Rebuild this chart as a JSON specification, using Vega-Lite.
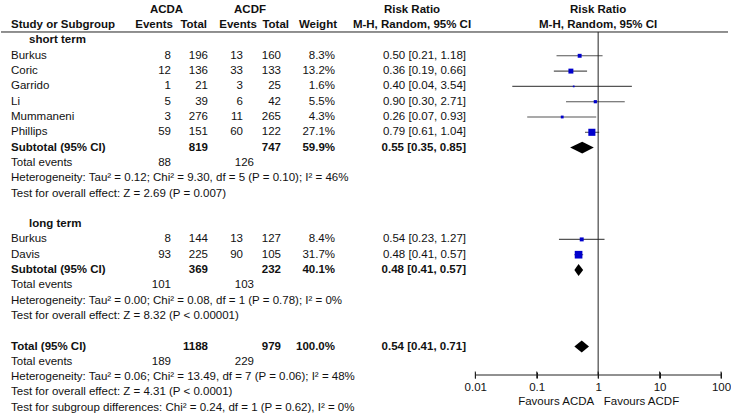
{
  "$schema": "https://vega.github.io/schema/vega-lite/v6.json",
  "background": "white",
  "padding": {"left": 0, "top": 0, "right": 4, "bottom": 0},
  "spacing": 0,
  "bounds": "flush",
  "config": {
    "view": {"stroke": null},
    "text": {"font": "Liberation Sans", "fontSize": 11.5, "fill": "#111", "baseline": "middle"}
  },
  "datasets": {
    "rows": [
      {"r": 0, "kind": "group", "label": "short term"},
      {"r": 1, "kind": "study", "label": "Burkus", "e1": "8", "t1": "196", "e2": "13", "t2": "160", "w": "8.3%", "ci": "0.50 [0.21, 1.18]", "est": 0.50, "lo": 0.21, "hi": 1.18, "wv": 8.3},
      {"r": 2, "kind": "study", "label": "Coric", "e1": "12", "t1": "136", "e2": "33", "t2": "133", "w": "13.2%", "ci": "0.36 [0.19, 0.66]", "est": 0.36, "lo": 0.19, "hi": 0.66, "wv": 13.2},
      {"r": 3, "kind": "study", "label": "Garrido", "e1": "1", "t1": "21", "e2": "3", "t2": "25", "w": "1.6%", "ci": "0.40 [0.04, 3.54]", "est": 0.40, "lo": 0.04, "hi": 3.54, "wv": 1.6},
      {"r": 4, "kind": "study", "label": "Li", "e1": "5", "t1": "39", "e2": "6", "t2": "42", "w": "5.5%", "ci": "0.90 [0.30, 2.71]", "est": 0.90, "lo": 0.30, "hi": 2.71, "wv": 5.5},
      {"r": 5, "kind": "study", "label": "Mummaneni", "e1": "3", "t1": "276", "e2": "11", "t2": "265", "w": "4.3%", "ci": "0.26 [0.07, 0.93]", "est": 0.26, "lo": 0.07, "hi": 0.93, "wv": 4.3},
      {"r": 6, "kind": "study", "label": "Phillips", "e1": "59", "t1": "151", "e2": "60", "t2": "122", "w": "27.1%", "ci": "0.79 [0.61, 1.04]", "est": 0.79, "lo": 0.61, "hi": 1.04, "wv": 27.1},
      {"r": 7, "kind": "subtotal", "label": "Subtotal (95% CI)", "t1": "819", "t2": "747", "w": "59.9%", "ci": "0.55 [0.35, 0.85]", "est": 0.55, "lo": 0.35, "hi": 0.85},
      {"r": 8, "kind": "info", "label": "Total events", "e1": "88", "e2": "126"},
      {"r": 9, "kind": "info", "label": "Heterogeneity: Tau² = 0.12; Chi² = 9.30, df = 5 (P = 0.10); I² = 46%"},
      {"r": 10, "kind": "info", "label": "Test for overall effect: Z = 2.69 (P = 0.007)"},
      {"r": 12, "kind": "group", "label": "long term"},
      {"r": 13, "kind": "study", "label": "Burkus", "e1": "8", "t1": "144", "e2": "13", "t2": "127", "w": "8.4%", "ci": "0.54 [0.23, 1.27]", "est": 0.54, "lo": 0.23, "hi": 1.27, "wv": 8.4},
      {"r": 14, "kind": "study", "label": "Davis", "e1": "93", "t1": "225", "e2": "90", "t2": "105", "w": "31.7%", "ci": "0.48 [0.41, 0.57]", "est": 0.48, "lo": 0.41, "hi": 0.57, "wv": 31.7},
      {"r": 15, "kind": "subtotal", "label": "Subtotal (95% CI)", "t1": "369", "t2": "232", "w": "40.1%", "ci": "0.48 [0.41, 0.57]", "est": 0.48, "lo": 0.41, "hi": 0.57},
      {"r": 16, "kind": "info", "label": "Total events", "e1": "101", "e2": "103"},
      {"r": 17, "kind": "info", "label": "Heterogeneity: Tau² = 0.00; Chi² = 0.08, df = 1 (P = 0.78); I² = 0%"},
      {"r": 18, "kind": "info", "label": "Test for overall effect: Z = 8.32 (P < 0.00001)"},
      {"r": 20, "kind": "subtotal", "label": "Total (95% CI)", "t1": "1188", "t2": "979", "w": "100.0%", "ci": "0.54 [0.41, 0.71]", "est": 0.54, "lo": 0.41, "hi": 0.71},
      {"r": 21, "kind": "info", "label": "Total events", "e1": "189", "e2": "229"},
      {"r": 22, "kind": "info", "label": "Heterogeneity: Tau² = 0.06; Chi² = 13.49, df = 7 (P = 0.06); I² = 48%"},
      {"r": 23, "kind": "info", "label": "Test for overall effect: Z = 4.31 (P < 0.0001)"},
      {"r": 24, "kind": "info", "label": "Test for subgroup differences: Chi² = 0.24, df = 1 (P = 0.62), I² = 0%"}
    ],
    "header": [
      {"col": "study", "r": -1, "text": "Study or Subgroup"},
      {"col": "g1", "r": -2, "text": "ACDA"},
      {"col": "e1", "r": -1, "text": "Events"},
      {"col": "t1", "r": -1, "text": "Total"},
      {"col": "g2", "r": -2, "text": "ACDF"},
      {"col": "e2", "r": -1, "text": "Events"},
      {"col": "t2", "r": -1, "text": "Total"},
      {"col": "w", "r": -1, "text": "Weight"},
      {"col": "ci", "r": -2, "text": "Risk Ratio"},
      {"col": "ci", "r": -1, "text": "M-H, Random, 95% CI"},
      {"col": "plot", "r": -2, "text": "Risk Ratio"},
      {"col": "plot", "r": -1, "text": "M-H, Random, 95% CI"}
    ],
    "frame": [
      {"part": "headline", "r": -0.556},
      {"part": "axisline", "r": 21.863, "lo": 0.01, "hi": 100},
      {"part": "nullline", "r": -0.556, "r2": 21.863, "v": 1},
      {"part": "tick", "r": 21.863, "v": 0.01},
      {"part": "tick", "r": 21.863, "v": 0.1},
      {"part": "tick", "r": 21.863, "v": 1},
      {"part": "tick", "r": 21.863, "v": 10},
      {"part": "tick", "r": 21.863, "v": 100}
    ]
  },
  "hconcat": [
    {
      "width": 130, "height": 415,
      "layer": [
        {"data": {"name": "frame"}, "transform": [{"filter": "datum.part === 'headline'"}], "mark": {"type": "rule", "color": "#222"},
         "encoding": {"y": {"field": "r", "type": "quantitative", "scale": {"domain": [-2.647, 24.477], "reverse": true, "nice": false, "zero": false}, "axis": null}}},
        {"data": {"name": "rows"}, "transform": [{"filter": "datum.kind === 'study' || datum.kind === 'info'"}], "mark": {"type": "text", "align": "left", "dx": 10},
         "encoding": {"x": {"datum": 0, "type": "quantitative", "scale": {"domain": [0, 1]}, "axis": null}, "y": {"field": "r", "type": "quantitative"}, "text": {"field": "label"}}},
        {"data": {"name": "rows"}, "transform": [{"filter": "datum.kind === 'subtotal'"}], "mark": {"type": "text", "align": "left", "dx": 10, "fontWeight": "bold"},
         "encoding": {"x": {"datum": 0, "type": "quantitative"}, "y": {"field": "r", "type": "quantitative"}, "text": {"field": "label"}}},
        {"data": {"name": "rows"}, "transform": [{"filter": "datum.kind === 'group'"}], "mark": {"type": "text", "align": "left", "dx": 28, "fontWeight": "bold"},
         "encoding": {"x": {"datum": 0, "type": "quantitative"}, "y": {"field": "r", "type": "quantitative"}, "text": {"field": "label"}}},
        {"data": {"name": "header"}, "transform": [{"filter": "datum.col === 'study'"}], "mark": {"type": "text", "align": "left", "dx": 10, "fontWeight": "bold"},
         "encoding": {"x": {"datum": 0, "type": "quantitative"}, "y": {"field": "r", "type": "quantitative"}, "text": {"field": "text"}}}
      ]
    },
    {
      "width": 40, "height": 415,
      "layer": [
        {"data": {"name": "frame"}, "transform": [{"filter": "datum.part === 'headline'"}], "mark": {"type": "rule", "color": "#222"},
         "encoding": {"y": {"field": "r", "type": "quantitative", "scale": {"domain": [-2.647, 24.477], "reverse": true, "nice": false, "zero": false}, "axis": null}}},
        {"data": {"name": "rows"}, "transform": [{"filter": "datum.e1 != null"}], "mark": {"type": "text", "align": "right"},
         "encoding": {"x": {"datum": 1, "type": "quantitative", "scale": {"domain": [0, 1]}, "axis": null}, "y": {"field": "r", "type": "quantitative"}, "text": {"field": "e1"}}},
        {"data": {"name": "header"}, "transform": [{"filter": "datum.col === 'e1'"}], "mark": {"type": "text", "align": "right", "dx": 2, "fontWeight": "bold"},
         "encoding": {"x": {"datum": 1, "type": "quantitative"}, "y": {"field": "r", "type": "quantitative"}, "text": {"field": "text"}}},
        {"data": {"name": "header"}, "transform": [{"filter": "datum.col === 'g1'"}], "mark": {"type": "text", "align": "center", "dx": -4.5, "fontWeight": "bold"},
         "encoding": {"x": {"datum": 1, "type": "quantitative"}, "y": {"field": "r", "type": "quantitative"}, "text": {"field": "text"}}}
      ]
    },
    {
      "width": 37, "height": 415,
      "layer": [
        {"data": {"name": "frame"}, "transform": [{"filter": "datum.part === 'headline'"}], "mark": {"type": "rule", "color": "#222"},
         "encoding": {"y": {"field": "r", "type": "quantitative", "scale": {"domain": [-2.647, 24.477], "reverse": true, "nice": false, "zero": false}, "axis": null}}},
        {"data": {"name": "rows"}, "transform": [{"filter": "datum.t1 != null && datum.kind !== 'subtotal'"}], "mark": {"type": "text", "align": "right"},
         "encoding": {"x": {"datum": 1, "type": "quantitative", "scale": {"domain": [0, 1]}, "axis": null}, "y": {"field": "r", "type": "quantitative"}, "text": {"field": "t1"}}},
        {"data": {"name": "rows"}, "transform": [{"filter": "datum.kind === 'subtotal'"}], "mark": {"type": "text", "align": "right", "fontWeight": "bold"},
         "encoding": {"x": {"datum": 1, "type": "quantitative"}, "y": {"field": "r", "type": "quantitative"}, "text": {"field": "t1"}}},
        {"data": {"name": "header"}, "transform": [{"filter": "datum.col === 't1'"}], "mark": {"type": "text", "align": "right", "dx": -1, "fontWeight": "bold"},
         "encoding": {"x": {"datum": 1, "type": "quantitative"}, "y": {"field": "r", "type": "quantitative"}, "text": {"field": "text"}}}
      ]
    },
    {
      "width": 35, "height": 415,
      "layer": [
        {"data": {"name": "frame"}, "transform": [{"filter": "datum.part === 'headline'"}], "mark": {"type": "rule", "color": "#222"},
         "encoding": {"y": {"field": "r", "type": "quantitative", "scale": {"domain": [-2.647, 24.477], "reverse": true, "nice": false, "zero": false}, "axis": null}}},
        {"data": {"name": "rows"}, "transform": [{"filter": "datum.e2 != null && datum.kind === 'study'"}], "mark": {"type": "text", "align": "right"},
         "encoding": {"x": {"datum": 1, "type": "quantitative", "scale": {"domain": [0, 1]}, "axis": null}, "y": {"field": "r", "type": "quantitative"}, "text": {"field": "e2"}}},
        {"data": {"name": "rows"}, "transform": [{"filter": "datum.e2 != null && datum.kind === 'info'"}], "mark": {"type": "text", "align": "right", "dx": 11},
         "encoding": {"x": {"datum": 1, "type": "quantitative"}, "y": {"field": "r", "type": "quantitative"}, "text": {"field": "e2"}}},
        {"data": {"name": "header"}, "transform": [{"filter": "datum.col === 'e2'"}], "mark": {"type": "text", "align": "right", "dx": 14, "fontWeight": "bold"},
         "encoding": {"x": {"datum": 1, "type": "quantitative"}, "y": {"field": "r", "type": "quantitative"}, "text": {"field": "text"}}},
        {"data": {"name": "header"}, "transform": [{"filter": "datum.col === 'g2'"}], "mark": {"type": "text", "align": "center", "dx": 7, "fontWeight": "bold"},
         "encoding": {"x": {"datum": 1, "type": "quantitative"}, "y": {"field": "r", "type": "quantitative"}, "text": {"field": "text"}}}
      ]
    },
    {
      "width": 38, "height": 415,
      "layer": [
        {"data": {"name": "frame"}, "transform": [{"filter": "datum.part === 'headline'"}], "mark": {"type": "rule", "color": "#222"},
         "encoding": {"y": {"field": "r", "type": "quantitative", "scale": {"domain": [-2.647, 24.477], "reverse": true, "nice": false, "zero": false}, "axis": null}}},
        {"data": {"name": "rows"}, "transform": [{"filter": "datum.t2 != null && datum.kind !== 'subtotal'"}], "mark": {"type": "text", "align": "right"},
         "encoding": {"x": {"datum": 1, "type": "quantitative", "scale": {"domain": [0, 1]}, "axis": null}, "y": {"field": "r", "type": "quantitative"}, "text": {"field": "t2"}}},
        {"data": {"name": "rows"}, "transform": [{"filter": "datum.kind === 'subtotal'"}], "mark": {"type": "text", "align": "right", "fontWeight": "bold"},
         "encoding": {"x": {"datum": 1, "type": "quantitative"}, "y": {"field": "r", "type": "quantitative"}, "text": {"field": "t2"}}},
        {"data": {"name": "header"}, "transform": [{"filter": "datum.col === 't2'"}], "mark": {"type": "text", "align": "right", "dx": 8, "fontWeight": "bold"},
         "encoding": {"x": {"datum": 1, "type": "quantitative"}, "y": {"field": "r", "type": "quantitative"}, "text": {"field": "text"}}}
      ]
    },
    {
      "width": 54, "height": 415,
      "layer": [
        {"data": {"name": "frame"}, "transform": [{"filter": "datum.part === 'headline'"}], "mark": {"type": "rule", "color": "#222"},
         "encoding": {"y": {"field": "r", "type": "quantitative", "scale": {"domain": [-2.647, 24.477], "reverse": true, "nice": false, "zero": false}, "axis": null}}},
        {"data": {"name": "rows"}, "transform": [{"filter": "datum.w != null && datum.kind !== 'subtotal'"}], "mark": {"type": "text", "align": "right"},
         "encoding": {"x": {"datum": 1, "type": "quantitative", "scale": {"domain": [0, 1]}, "axis": null}, "y": {"field": "r", "type": "quantitative"}, "text": {"field": "w"}}},
        {"data": {"name": "rows"}, "transform": [{"filter": "datum.kind === 'subtotal'"}], "mark": {"type": "text", "align": "right", "fontWeight": "bold"},
         "encoding": {"x": {"datum": 1, "type": "quantitative"}, "y": {"field": "r", "type": "quantitative"}, "text": {"field": "w"}}},
        {"data": {"name": "header"}, "transform": [{"filter": "datum.col === 'w'"}], "mark": {"type": "text", "align": "right", "dx": 2, "fontWeight": "bold"},
         "encoding": {"x": {"datum": 1, "type": "quantitative"}, "y": {"field": "r", "type": "quantitative"}, "text": {"field": "text"}}}
      ]
    },
    {
      "width": 131, "height": 415,
      "layer": [
        {"data": {"name": "frame"}, "transform": [{"filter": "datum.part === 'headline'"}], "mark": {"type": "rule", "color": "#222"},
         "encoding": {"y": {"field": "r", "type": "quantitative", "scale": {"domain": [-2.647, 24.477], "reverse": true, "nice": false, "zero": false}, "axis": null}}},
        {"data": {"name": "rows"}, "transform": [{"filter": "datum.ci != null && datum.kind !== 'subtotal'"}], "mark": {"type": "text", "align": "right"},
         "encoding": {"x": {"datum": 1, "type": "quantitative", "scale": {"domain": [0, 1]}, "axis": null}, "y": {"field": "r", "type": "quantitative"}, "text": {"field": "ci"}}},
        {"data": {"name": "rows"}, "transform": [{"filter": "datum.kind === 'subtotal'"}], "mark": {"type": "text", "align": "right", "fontWeight": "bold"},
         "encoding": {"x": {"datum": 1, "type": "quantitative"}, "y": {"field": "r", "type": "quantitative"}, "text": {"field": "ci"}}},
        {"data": {"name": "header"}, "transform": [{"filter": "datum.col === 'ci'"}], "mark": {"type": "text", "align": "center", "dx": 11.5, "fontWeight": "bold"},
         "encoding": {"x": {"datum": 0.5, "type": "quantitative"}, "y": {"field": "r", "type": "quantitative"}, "text": {"field": "text"}}}
      ]
    },
    {
      "width": 262, "height": 415,
      "layer": [
        {"data": {"name": "frame"}, "transform": [{"filter": "datum.part === 'headline'"}], "mark": {"type": "rule", "color": "#222"},
         "encoding": {"y": {"field": "r", "type": "quantitative", "scale": {"domain": [-2.647, 24.477], "reverse": true, "nice": false, "zero": false}, "axis": null}}},
        {"data": {"name": "rows"}, "transform": [{"filter": "datum.kind === 'study'"}], "mark": {"type": "rule", "color": "#555", "strokeWidth": 1.1},
         "encoding": {
           "x": {"field": "lo", "type": "quantitative", "scale": {"type": "log", "domain": [0.01, 100], "range": [9.3, 255], "nice": false},
                 "axis": {"orient": "bottom", "offset": -43, "values": [0.01, 0.1, 1, 10, 100], "labelExpr": "format(datum.value, '~g')", "domain": false, "grid": false, "ticks": true, "tickSize": 6, "tickWidth": 1, "tickColor": "#111", "labelFont": "Liberation Sans", "labelFontSize": 11.5, "labelColor": "#111", "labelPadding": 3, "labelFlush": false, "labelOverlap": false, "title": "Favours ACDA\u00a0\u00a0\u00a0Favours ACDF", "titleFont": "Liberation Sans", "titleFontSize": 11.5, "titleFontWeight": "normal", "titleColor": "#111", "titlePadding": 3}},
           "x2": {"field": "hi"},
           "y": {"field": "r", "type": "quantitative"}}},
        {"data": {"name": "frame"}, "transform": [{"filter": "datum.part === 'axisline'"}], "mark": {"type": "rule", "color": "#222"},
         "encoding": {"x": {"field": "lo", "type": "quantitative"}, "x2": {"field": "hi"}, "y": {"field": "r", "type": "quantitative"}}},
        {"data": {"name": "frame"}, "transform": [{"filter": "datum.part === 'tick'"}], "mark": {"type": "tick", "orient": "vertical", "size": 7, "thickness": 1, "color": "#222", "opacity": 1},
         "encoding": {"x": {"field": "v", "type": "quantitative"}, "y": {"field": "r", "type": "quantitative"}}},
        {"data": {"name": "frame"}, "transform": [{"filter": "datum.part === 'nullline'"}], "mark": {"type": "rule", "color": "#222"},
         "encoding": {"x": {"field": "v", "type": "quantitative"}, "y": {"field": "r", "type": "quantitative"}, "y2": {"field": "r2"}}},
        {"data": {"name": "rows"}, "transform": [{"filter": "datum.kind === 'study'"}], "mark": {"type": "square", "filled": true, "color": "#0000cc", "opacity": 1},
         "encoding": {"x": {"field": "est", "type": "quantitative"}, "y": {"field": "r", "type": "quantitative"},
           "size": {"field": "wv", "type": "quantitative", "scale": {"domain": [0, 100], "range": [0, 185], "zero": true}, "legend": null}}},
        {"data": {"name": "rows"}, "transform": [{"filter": "datum.kind === 'subtotal'"}, {"fold": ["lo", "est", "hi"], "as": ["k", "v"]}, {"calculate": "datum.k === 'est' ? 0.39 : 0", "as": "h"}, {"calculate": "datum.r - datum.h", "as": "ya"}, {"calculate": "datum.r + datum.h", "as": "yb"}],
         "mark": {"type": "area", "color": "#000", "opacity": 1},
         "encoding": {"x": {"field": "v", "type": "quantitative"}, "y": {"field": "ya", "type": "quantitative"}, "y2": {"field": "yb"}, "detail": {"field": "r", "type": "nominal"}}},
        {"data": {"name": "header"}, "transform": [{"filter": "datum.col === 'plot'"}], "mark": {"type": "text", "align": "center", "fontWeight": "bold"},
         "encoding": {"x": {"datum": 1, "type": "quantitative"}, "y": {"field": "r", "type": "quantitative"}, "text": {"field": "text"}}}
      ]
    }
  ]
}
